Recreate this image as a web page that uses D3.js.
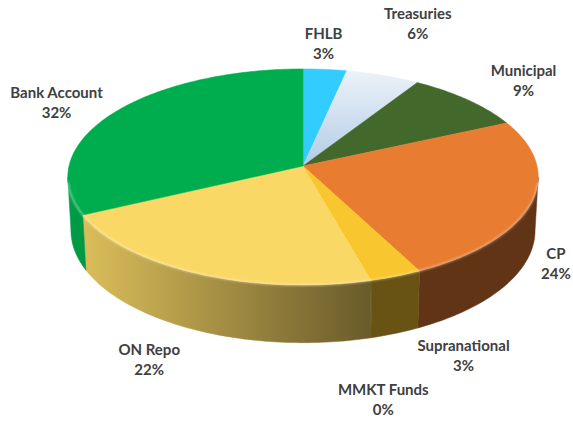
<!DOCTYPE html>
<html>
<head>
<meta charset="utf-8">
<script src="https://cdn.jsdelivr.net/npm/d3@7"></script>
<style>
  html, body { margin: 0; padding: 0; background: #fff; }
  svg text { font-family: Lato, "Open Sans", sans-serif; font-weight: bold; font-size: 15px; fill: #404040; }
</style>
</head>
<body>
<svg id="chart" width="573" height="421"></svg>
<script>
// Portfolio allocation — 3D pie (perspective tilted disc)
const categories = ['FHLB', 'Treasuries', 'Municipal', 'CP', 'Supranational', 'MMKT Funds', 'ON Repo', 'Bank Account'];
const values = [3.3, 5.6, 9.2, 24.4, 3.2, 0.05, 22.0, 32.2];
const colors = ['#33CCFF', '#D3E2F2', '#43682B', '#E87C31', '#F8C62F', '#FFC000', '#F9D866', '#00AD4E'];
// label fine-tuning, px (Excel pushes some labels aside)
const labelNudge = [[-7, 0], [8.5, -32], [20, -9], [8, -3], [43.5, 0], [-6, 38], [-29, 8], [-8, -2]];

const svg = d3.select('#chart');
const cx = 303, cy = 166, S = 234, D = 8.73, thick = 0.26;
const tilt = 27.2 * Math.PI / 180;

function project(theta, r, level) {
  const X = r * Math.sin(theta), Z = -r * Math.cos(theta), Y = level;
  const ys = -Y * Math.cos(tilt) + Z * Math.sin(tilt);
  const zv = Y * Math.sin(tilt) + Z * Math.cos(tilt);
  const k = D / (D - zv);
  return [cx + S * X * k, cy + S * ys * k];
}

function rim(a0, a1, level) {
  const n = Math.max(2, Math.ceil((a1 - a0) / (Math.PI / 180)));
  return d3.range(n + 1).map(i => project(a0 + (a1 - a0) * i / n, 1, level));
}

const pie = d3.pie().sort(null).value(d => d).startAngle(0).endAngle(2 * Math.PI);
const arcs = pie(values).map((a, i) => ({ ...a, name: categories[i], color: colors[i], i }));
const total = d3.sum(values);
const pct = d3.format('.0%');

const defs = svg.append('defs');
const shade = (c, f) => { const r = d3.rgb(c); return d3.rgb(r.r * f, r.g * f, r.b * f).formatHex(); };

arcs.forEach(a => {
  const g = defs.append('linearGradient').attr('id', 'wall' + a.i)
    .attr('gradientUnits', 'userSpaceOnUse')
    .attr('x1', 70).attr('x2', 370).attr('y1', 0).attr('y2', 0);
  g.append('stop').attr('offset', 0).attr('stop-color', shade(a.color, 0.9));
  g.append('stop').attr('offset', 1).attr('stop-color', shade(a.color, 0.42));
});
const tg = defs.append('linearGradient').attr('id', 'treas')
  .attr('gradientUnits', 'userSpaceOnUse').attr('x1', 0).attr('x2', 0).attr('y1', 70).attr('y2', 166);
tg.append('stop').attr('offset', 0).attr('stop-color', '#EDF2F9');
tg.append('stop').attr('offset', 1).attr('stop-color', '#B2CCE5');
defs.append('filter').attr('id', 'soft').append('feGaussianBlur').attr('stdDeviation', 0.8);

// visible part of the outer wall
const w0 = Math.acos(-Math.cos(tilt) / D), w1 = 2 * Math.PI - w0;
const line = d3.line();

const walls = svg.append('g');
arcs.forEach(a => {
  const s = Math.max(a.startAngle, w0), e = Math.min(a.endAngle, w1);
  if (e <= s) return;
  const pts = rim(s, e, 0).concat(rim(s, e, -thick).reverse());
  walls.append('path').attr('d', line(pts) + 'Z')
    .attr('fill', `url(#wall${a.i})`)
    .attr('stroke', `url(#wall${a.i})`).attr('stroke-width', 0.5);
});

const tops = svg.append('g');
arcs.forEach(a => {
  if (a.endAngle - a.startAngle < 1e-4) return;
  const pts = [[cx, cy]].concat(rim(a.startAngle, a.endAngle, 0));
  const fill = a.name === 'Treasuries' ? 'url(#treas)' : a.color;
  tops.append('path').attr('d', line(pts) + 'Z')
    .attr('fill', fill).attr('stroke', fill).attr('stroke-width', 0.5);
});

// soft highlight on the front rim
svg.append('path').attr('d', line(rim(w0 + 0.05, w1 - 0.05, 0)))
  .attr('fill', 'none').attr('stroke', '#fff').attr('stroke-opacity', 0.45)
  .attr('stroke-width', 1.6).attr('filter', 'url(#soft)');

// data labels
const labels = svg.append('g');
arcs.forEach(a => {
  const mid = (a.startAngle + a.endAngle) / 2;
  const front = Math.cos(mid) < 0;
  const P = project(mid, 1, front ? -thick : 0);
  const dx = P[0] - cx, dy = P[1] - cy, len = Math.hypot(dx, dy);
  const ux = dx / len, uy = dy / len;
  const lg = labels.append('g');
  const t1 = lg.append('text').attr('text-anchor', 'middle').text(a.name);
  const t2 = lg.append('text').attr('text-anchor', 'middle').text(pct(a.data / total));
  const hw = Math.max(t1.node().getComputedTextLength(), t2.node().getComputedTextLength()) / 2;
  const hh = 20, gap = 6;
  const lx = P[0] + ux * gap + ux * hw + labelNudge[a.i][0];
  const ly = P[1] + uy * gap + uy * hh + labelNudge[a.i][1];
  t1.attr('x', lx).attr('y', ly - 5);
  t2.attr('x', lx).attr('y', ly + 15);
});
</script>
</body>
</html>
